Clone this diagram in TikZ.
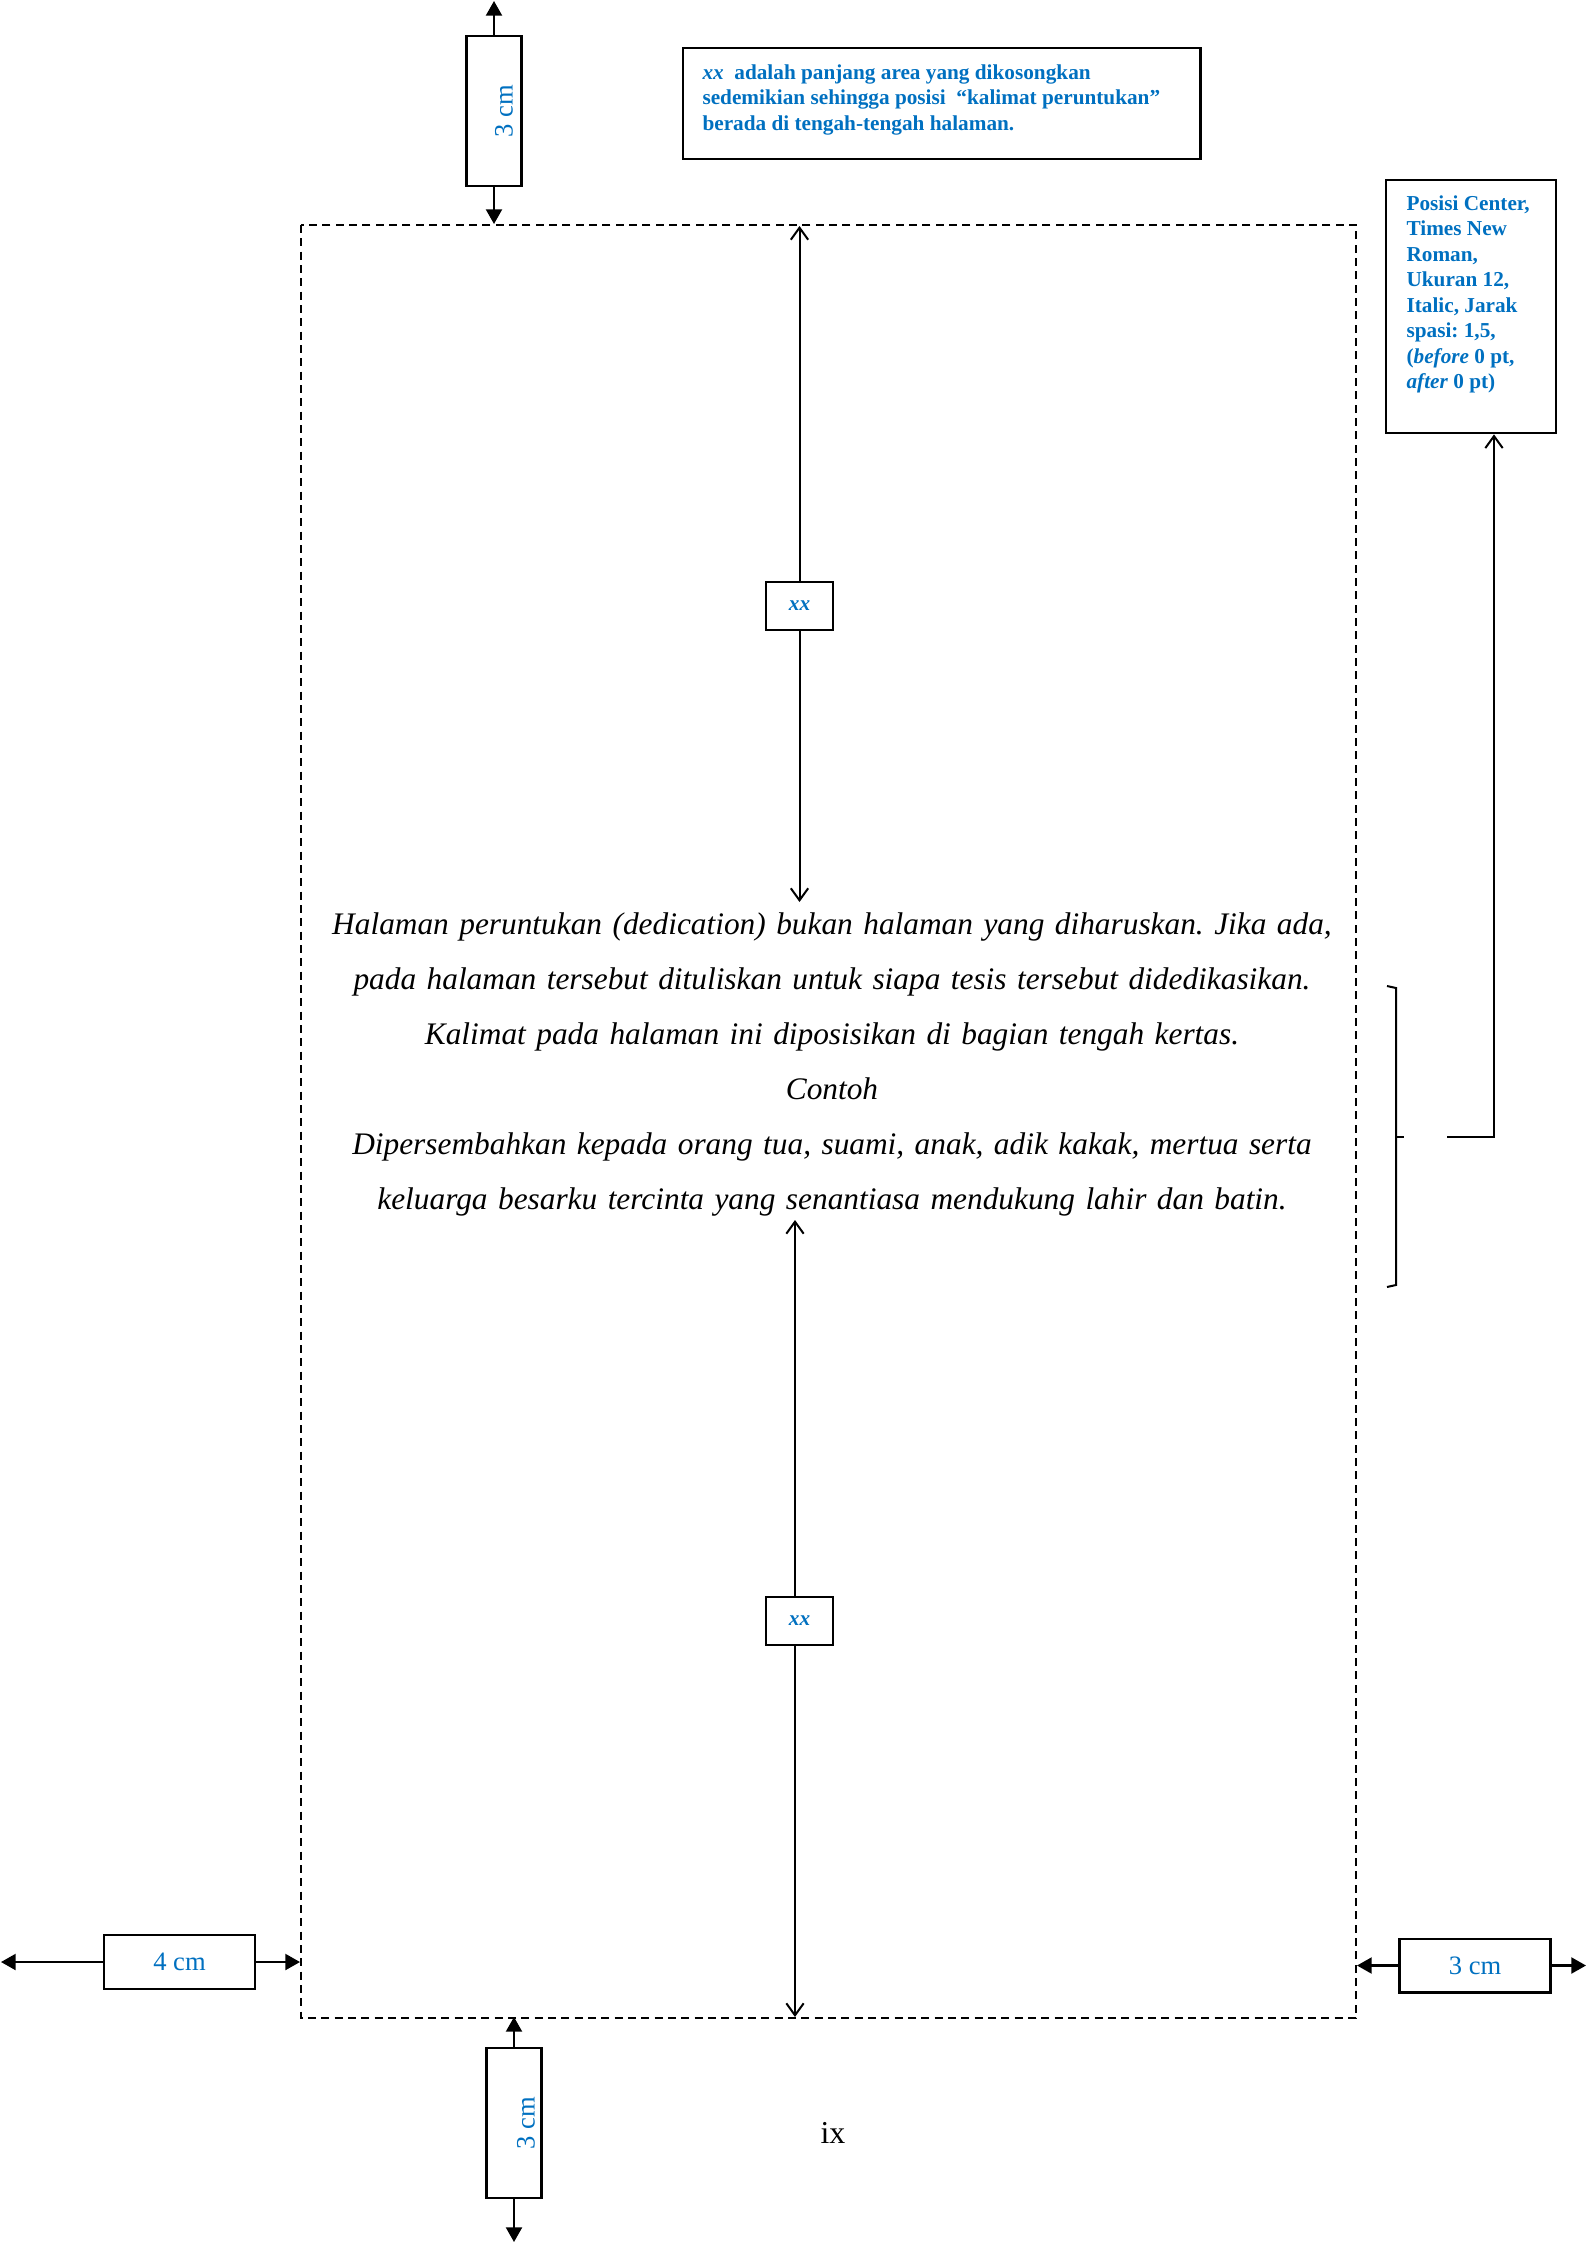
\documentclass[tikz,border=0pt]{standalone}
\usepackage{fontspec}
\setmainfont{Liberation Serif}
\usetikzlibrary{arrows.meta}
\definecolor{wblue}{RGB}{0,112,192}
\begin{document}
\frenchspacing
\begin{tikzpicture}[x=0.375bp,y=-0.375bp,
  every node/.style={inner sep=0pt},
  fillarr/.style={line width=0.8bp,-{Triangle[length=5.5bp,width=6bp]}},
  openarr/.style={line width=0.75bp,-{Straight Barb[length=4.5bp,width=6.5bp]}},
  hdim/.style={draw,line width=0.8bp,minimum width=56.6bp,minimum height=20.2bp,
    font=\fontsize{10}{12}\selectfont,text=wblue},
  vdim/.style={draw,line width=0.8bp,minimum width=20.6bp,minimum height=56.25bp},
  vlabel/.style={rotate=90,font=\fontsize{10}{12}\selectfont,text=wblue},
  xxbox/.style={draw,line width=0.8bp,minimum width=25.1bp,minimum height=18bp,
    font=\bfseries\itshape\fontsize{8}{9.6}\selectfont,text=wblue},
  notebox/.style={draw,line width=1bp},
  notetext/.style={font=\bfseries\fontsize{8}{9.6}\selectfont,text=wblue,align=left},
  bodytext/.style={font=\itshape\fontsize{11.8}{20.7}\selectfont\frenchspacing,align=center,text width=520bp}
]
\useasboundingbox (0,0) rectangle (1588,2245);

% page text area
\coordinate (pTL) at (301,225);
\coordinate (pBR) at (1356,2018);
\draw[line width=0.75bp,dash pattern=on 3bp off 2bp] (pTL) rectangle (pBR);

% top 3 cm
\node[vdim] (topbox) at (494,111) {};
\node[vlabel] (toplbl) at (504,111) {3 cm};
\coordinate (topU) at (494,1);
\coordinate (topD) at (494,224);
\draw[fillarr] (topbox.north) -- (topU);
\draw[fillarr] (topbox.south) -- (topD);

% bottom 3 cm
\node[vdim] (botbox) at (514,2123) {};
\node[vlabel] (botlbl) at (526,2123) {3 cm};
\coordinate (botU) at (514,2017);
\coordinate (botD) at (514,2242);
\draw[fillarr] (botbox.north) -- (botU);
\draw[fillarr] (botbox.south) -- (botD);

% left 4 cm
\node[hdim] (lbox) at (179.5,1962) {4 cm};
\coordinate (lL) at (1,1962);
\coordinate (lR) at (300,1962);
\draw[fillarr] (lbox.west) -- (lL);
\draw[fillarr] (lbox.east) -- (lR);

% right 3 cm
\node[hdim] (rbox) at (1475,1965.5) {3 cm};
\coordinate (rL) at (1357,1965.5);
\coordinate (rR) at (1586,1965.5);
\draw[fillarr] (rbox.west) -- (rL);
\draw[fillarr] (rbox.east) -- (rR);

% top note
\node[notebox,minimum width=194bp,minimum height=41.6bp] (note1) at (941.5,103.5) {};
\node[notetext,anchor=north west] (note1t) at (702,64) {\textit{xx}\ \ adalah panjang area yang dikosongkan\\
sedemikian sehingga posisi\ \ “kalimat peruntukan”\\
berada di tengah-tengah\ halaman.};

% right note
\node[notebox,minimum width=63.75bp,minimum height=94.9bp] (note2) at (1471,306.5) {};
\node[notetext,anchor=north west] (note2t) at (1406,195) {Posisi Center,\\
Times New\\
Roman,\\
Ukuran 12,\\
Italic, Jarak\\
spasi: 1,5,\\
(\textit{before} 0 pt,\\
\textit{after} 0 pt)};

% top xx arrow
\node[xxbox] (xx1) at (799.5,606) {xx};
\coordinate (xx1T) at (799.5,226);
\coordinate (xx1B) at (799.5,902);
\draw[openarr] (xx1.north) -- (xx1T);
\draw[openarr] (xx1.south) -- (xx1B);

% bottom xx arrow
\node[xxbox] (xx2) at (799.5,1621) {xx};
\coordinate (xx2T) at (795,1220);
\coordinate (xx2B) at (795,2017);
\draw[openarr] (xx2T |- xx2.north) -- (xx2T);
\draw[openarr] (xx2B |- xx2.south) -- (xx2B);

% body text
\node[bodytext,anchor=north] (body) at (832,912) {Halaman peruntukan (dedication) bukan halaman yang diharuskan. Jika ada,\\
pada halaman tersebut dituliskan untuk siapa tesis tersebut didedikasikan.\\
Kalimat pada halaman ini diposisikan di bagian tengah kertas.\\
Contoh\\
Dipersembahkan kepada orang tua, suami, anak, adik kakak, mertua serta\\
keluarga besarku tercinta yang senantiasa mendukung lahir dan batin.};

% bracket and connector to right note
\draw[line width=0.75bp] (1387,986) -- (1396,988) -- (1396,1285) -- (1387,1287);
\draw[line width=0.75bp] (1396,1137) -- (1404,1137);
\coordinate (hk) at (1447,1137);
\coordinate (elb) at (1494,1137);
\draw[openarr] (hk) -- (elb) -- (elb |- note2.south);

% page number
\node[font=\fontsize{12}{14}\selectfont] (pnum) at (833,2133) {ix};
\end{tikzpicture}
\end{document}
